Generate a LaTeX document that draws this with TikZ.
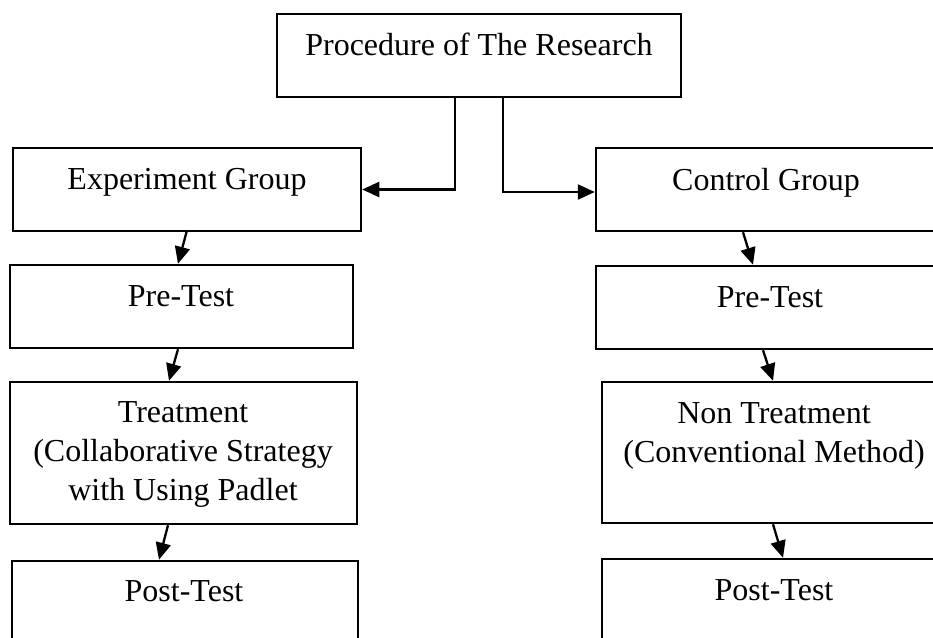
\documentclass[tikz,border=0pt]{standalone}
\usepackage{fontspec}
\setmainfont{Liberation Serif}
\usetikzlibrary{arrows.meta}
\begin{document}
\begin{tikzpicture}[x=1pt,y=-1pt,
  box/.style={draw, line width=2.5pt, rectangle, inner sep=0pt},
  lbl/.style={anchor=base, inner sep=0pt, font=\fontsize{32}{38}\selectfont},
  arr/.style={line width=2.3pt, -{Triangle[length=17pt,width=15pt]}}]
\useasboundingbox (0,0) rectangle (933,637);
% boxes
\node[box, minimum width=404pt, minimum height=83pt] (top) at (479,55.5) {};
\node[box, minimum width=348pt, minimum height=83pt] (exp) at (187,189.5) {};
\node[box, minimum width=349pt, minimum height=83pt] (ctrl) at (770.5,189.5) {};
\node[box, minimum width=343pt, minimum height=83pt] (preL) at (181.5,306.5) {};
\node[box, minimum width=349pt, minimum height=83pt] (preR) at (770.5,307.5) {};
\node[box, minimum width=347pt, minimum height=142pt] (treat) at (183.5,453) {};
\node[box, minimum width=343pt, minimum height=141pt] (non) at (773.5,452.5) {};
\node[box, minimum width=346pt, minimum height=110pt] (postL) at (185,616) {};
\node[box, minimum width=343pt, minimum height=110pt] (postR) at (773.5,614) {};
% texts
\node[lbl] (t1) at (479,55) {Procedure of The Research};
\node[lbl] (t2) at (187,189) {Experiment Group};
\node[lbl] (t3) at (766,190) {Control Group};
\node[lbl] (t4) at (181,306) {Pre-Test};
\node[lbl] (t5) at (770,307) {Pre-Test};
\node[lbl] (t6) at (183,422) {Treatment};
\node[lbl] (t7) at (183,461) {(Collaborative Strategy};
\node[lbl] (t8) at (183,500) {with Using Padlet};
\node[lbl] (t9) at (774,423) {Non Treatment};
\node[lbl] (t10) at (774,462) {(Conventional Method)};
\node[lbl] (t11) at (184,601) {Post-Test};
\node[lbl] (t12) at (774,600) {Post-Test};
% connectors
\draw[arr] ([xshift=-24pt]top.south) |- (exp.east);
\draw[arr] ([xshift=24pt]top.south) |- ([yshift=-2.5pt]ctrl.west);
\draw[arr] ([xshift=0pt,yshift=2pt]exp.south) -- ([xshift=-3.5pt]preL.north);
\draw[arr] ([xshift=-3.5pt]preL.south) -- ([xshift=-14.5pt]treat.north);
\draw[arr] ([xshift=-15.5pt]treat.south) -- ([xshift=-26pt]postL.north);
\draw[arr] ([xshift=-27.5pt]ctrl.south) -- ([xshift=-17.5pt]preR.north);
\draw[arr] ([xshift=-7.5pt]preR.south) -- ([xshift=-0.5pt]non.north);
\draw[arr] ([xshift=-0.5pt]non.south) -- ([xshift=9.5pt]postR.north);
\end{tikzpicture}
\end{document}
